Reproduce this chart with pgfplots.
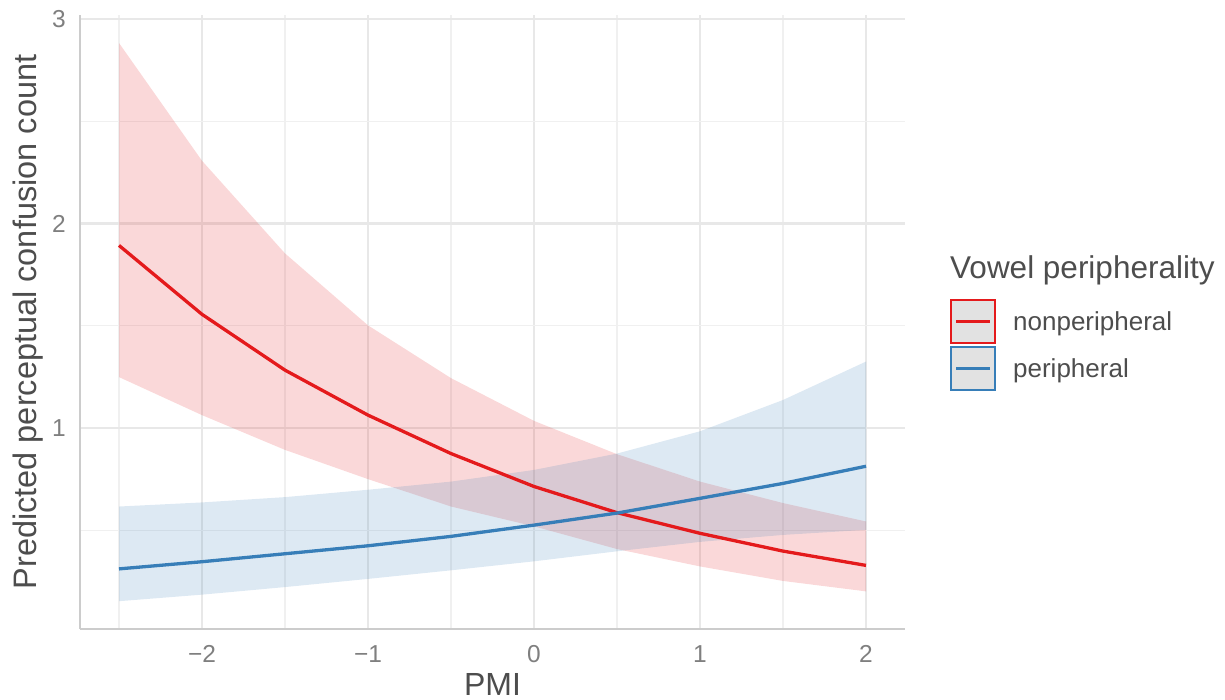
\documentclass[border=0pt]{standalone}
\usepackage{fontspec}
\setmainfont{Liberation Sans}
\usepackage{pgfplots}
\pgfplotsset{compat=1.18}
\usepackage{pgfplotstable}
\usepgfplotslibrary{fillbetween}
\definecolor{cred}{HTML}{E41A1C}
\definecolor{cblue}{HTML}{377EB8}
\definecolor{gridmaj}{HTML}{E8E8E8}
\definecolor{gridmin}{HTML}{F0F0F0}
\definecolor{axgray}{HTML}{CCCCCC}
\definecolor{tickgray}{HTML}{7F7F7F}
\definecolor{txtgray}{HTML}{4D4D4D}
\definecolor{keygray}{HTML}{E2E2E2}

\pgfplotstableread{
x fit lo hi
-2.5 1.893 1.249 2.883
-2.0 1.556 1.063 2.307
-1.5 1.283 0.893 1.854
-1.0 1.063 0.750 1.502
-0.5 0.875 0.616 1.244
0.0 0.714 0.519 1.035
0.5 0.586 0.408 0.872
1.0 0.485 0.323 0.738
1.5 0.398 0.252 0.633
2.0 0.328 0.201 0.543
}\nonperiph

\pgfplotstableread{
x fit lo hi
-2.5 0.311 0.153 0.616
-2.0 0.346 0.185 0.636
-1.5 0.385 0.222 0.662
-1.0 0.424 0.262 0.698
-0.5 0.470 0.304 0.738
0.0 0.525 0.348 0.795
0.5 0.584 0.397 0.875
1.0 0.656 0.443 0.984
1.5 0.729 0.477 1.137
2.0 0.813 0.502 1.325
}\periph

\begin{document}
\begin{tikzpicture}
\begin{axis}[
  name=ax,
  at={(0,0)}, anchor=south west,
  scale only axis, width=825bp, height=614bp,
  xmin=-2.735, xmax=2.235, ymin=0.017, ymax=3.02,
  axis x line*=bottom, axis y line*=left,
  axis line style={axgray, line width=2.5bp},
  xtick={-2,-1,0,1,2}, xticklabels={−2,−1,0,1,2},
  ytick={1,2,3}, yticklabels={1,2,3},
  minor xtick={-2.5,-1.5,-0.5,0.5,1.5},
  minor ytick={0.5,1.5,2.5},
  major tick length=0pt, minor tick length=0pt,
  grid=both,
  major grid style={gridmaj, line width=2.2bp},
  minor grid style={gridmin, line width=1.4bp},
  tick label style={font=\fontsize{24.5bp}{28bp}\selectfont, text=tickgray, inner sep=0pt},
  xticklabel style={anchor=north, yshift=-16bp},
  yticklabel style={anchor=east, xshift=-14bp},
  xlabel={PMI},
  ylabel={Predicted perceptual confusion count},
  xlabel style={font=\fontsize{32bp}{36bp}\selectfont, text=txtgray, inner sep=0pt,
    at={(axis description cs:0.5,0)}, anchor=north, yshift=-44bp},
  ylabel style={font=\fontsize{32.5bp}{36bp}\selectfont, text=txtgray, inner sep=0pt,
    at={(axis description cs:-0.0533,0.5)}, anchor=base},
  legend image code/.code={
    \draw[#1, fill=keygray, line width=2.2bp] (0bp,-21.5bp) rectangle (44bp,21.5bp);
    \draw[#1, line width=3.2bp] (5bp,0bp) -- (39bp,0bp);
  },
  legend style={at={(axis description cs:1.0545,0.5375)}, anchor=north west,
    draw=none, fill=none, inner sep=0pt, outer sep=0pt,
    row sep=2bp, column sep=17bp,
    font=\fontsize{26bp}{30bp}\selectfont, text=txtgray,
    nodes={inner sep=0pt}},
  legend cell align=left,
]
% ribbons
\addplot[name path=rhi, draw=none, forget plot] table[x=x, y=hi] {\nonperiph};
\addplot[name path=rlo, draw=none, forget plot] table[x=x, y=lo] {\nonperiph};
\addplot[fill=cred, fill opacity=0.17, draw=none, forget plot] fill between[of=rhi and rlo];
\addplot[name path=bhi, draw=none, forget plot] table[x=x, y=hi] {\periph};
\addplot[name path=blo, draw=none, forget plot] table[x=x, y=lo] {\periph};
\addplot[fill=cblue, fill opacity=0.17, draw=none, forget plot] fill between[of=bhi and blo];
% lines
\addplot[cred, line width=3.3bp] table[x=x, y=fit] {\nonperiph};
\addlegendentry{nonperipheral}
\addplot[cblue, line width=3.3bp] table[x=x, y=fit] {\periph};
\addlegendentry{peripheral}
\end{axis}
\node[anchor=base west, inner sep=0pt, font=\fontsize{31.5bp}{35bp}\selectfont, text=txtgray] at (870bp,350bp) {Vowel peripherality};
\pgfresetboundingbox
\path[use as bounding box] (-80bp,-71bp) rectangle (1145bp,629bp);
\end{tikzpicture}
\end{document}
